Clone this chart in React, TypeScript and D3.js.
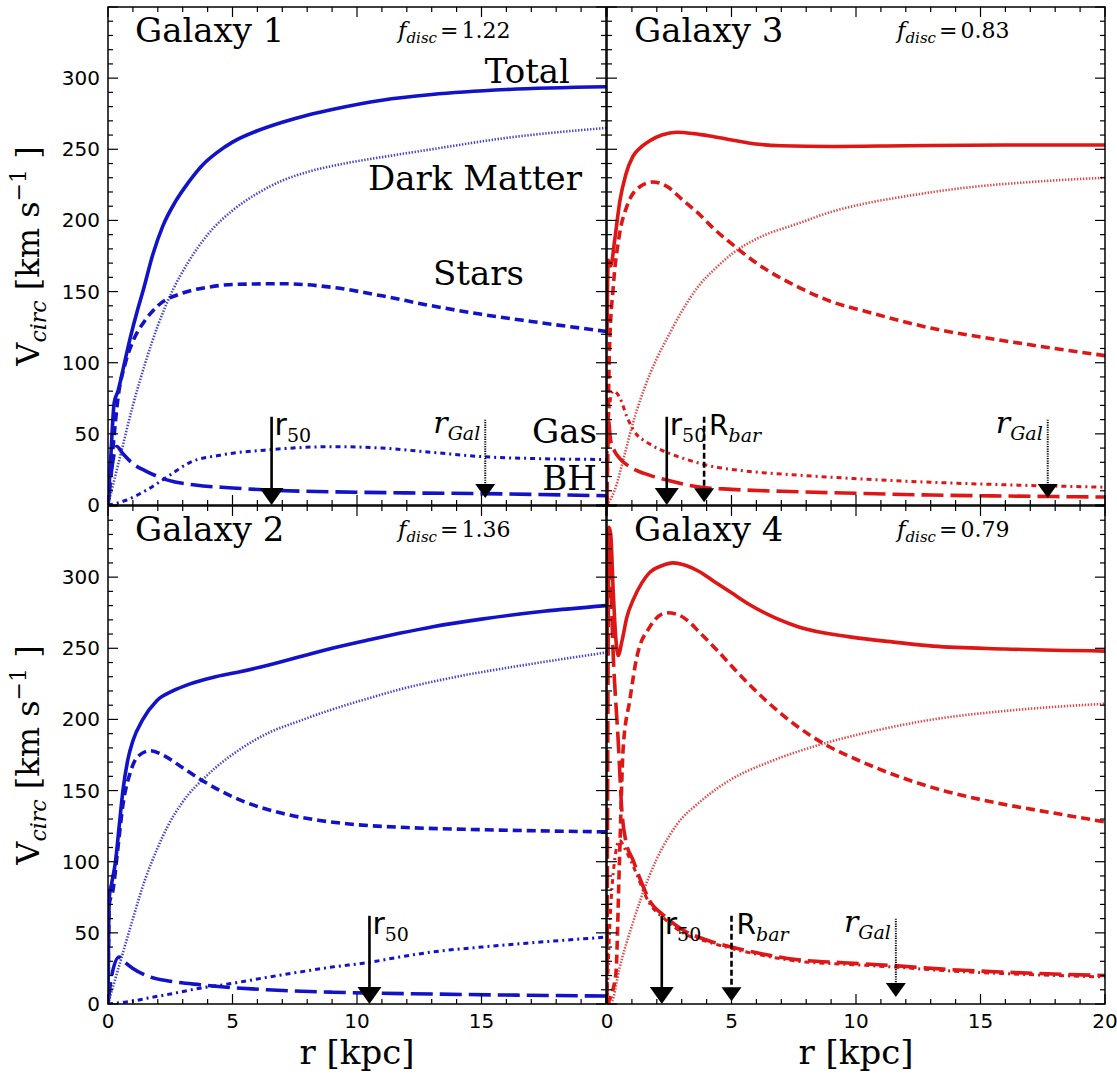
import React from 'react';
import * as d3 from 'd3';

// radius (kpc), circular velocity (km/s) pairs
const g1Total = [[0, 0], [0.1, 30], [0.25, 72], [0.4, 80], [0.6, 95], [0.9, 118], [1.2, 138], [1.4, 150], [1.8, 176], [2.2, 196], [2.7, 213], [3.2, 226], [3.8, 239], [4.4, 248], [5, 255], [6, 263], [7, 269], [8, 274], [9, 278], [11, 284.5], [13, 288.5], [16, 292], [20, 294]];
const g1Dm = [[0, 0], [0.5, 35], [1, 70], [1.5, 100], [2, 126], [2.6, 151], [3.2, 170], [4, 190], [5, 207], [6, 219], [7, 228], [8, 234], [9.5, 240], [11, 244.5], [13, 250], [16, 258], [20, 265]];
const g1Stars = [[0, 0], [0.2, 40], [0.4, 75], [0.7, 100], [1, 115], [1.5, 130], [2, 140], [3, 149], [4, 153], [5, 155], [7, 155.5], [9, 153], [11, 147], [13, 140], [15, 134], [17, 129], [20, 122]];
const g1Gas = [[0, 0], [0.3, 1], [0.75, 3.5], [1.5, 10], [2.4, 20], [3.3, 30], [4.5, 35], [6.6, 39], [9, 41], [11, 40], [13, 37], [15, 34], [17.5, 32.5], [20, 32]];
const g1Bh = [[0, 0], [0.15, 25], [0.35, 41], [0.6, 36], [1, 29], [1.5, 24], [2.4, 17.5], [3.5, 14], [5, 12], [6.4, 10.5], [9, 9.3], [12, 8.5], [15, 8], [20, 6.5]];

const g2Total = [[0, 0], [0.05, 75], [0.15, 85], [0.3, 100], [0.45, 125], [0.6, 150], [0.8, 172], [1, 185], [1.4, 200], [1.95, 213], [2.6, 220], [3.3, 225], [4.2, 229.5], [5.3, 233.5], [6.5, 238.5], [7.7, 244], [9, 250], [10.5, 256], [11.7, 260.5], [13, 265], [15, 270.5], [17.5, 276], [20, 280]];
const g2Dm = [[0, 0], [0.5, 30], [0.9, 54], [1.5, 88], [2, 110], [2.4, 125], [3, 142], [4, 161], [5.3, 179], [6.5, 191], [7.7, 199], [9, 207], [10.5, 215], [11.7, 221], [14, 230], [17, 239], [20, 247]];
const g2Stars = [[0, 0], [0.05, 70], [0.2, 80], [0.4, 110], [0.6, 140], [0.9, 163], [1.2, 174], [1.7, 178], [2.2, 175], [3, 166], [3.7, 158], [4.5, 150], [5.5, 142], [7, 134], [8.5, 129], [10, 126], [12, 124], [15, 122.5], [20, 121]];
const g2Gas = [[0, 0], [0.5, 1], [1, 2], [1.55, 4], [2.5, 7], [3.5, 10.5], [5, 14.5], [6.3, 18.5], [7.7, 22.5], [9, 26], [10.4, 29], [11.7, 33], [13, 36.5], [15, 40], [17, 43], [20, 47]];
const g2Bh = [[0, 0], [0.15, 20], [0.45, 33], [0.7, 29], [1, 25], [1.7, 19], [2.5, 16], [3.7, 13.5], [5, 11.5], [6.4, 10], [9, 8.3], [13, 7], [16, 6.3], [20, 5.6]];

const g3Total = [[0, 120], [0.05, 172], [0.15, 168], [0.3, 185], [0.52, 214], [0.75, 232], [1.04, 245], [1.4, 252], [1.72, 256], [2.2, 260], [2.8, 262], [3.5, 261], [4.25, 259], [5.2, 256], [6.1, 253.5], [7, 252.5], [9, 252], [12, 252.5], [16, 253], [20, 253]];
const g3Dm = [[0, 0], [0.3, 10], [0.7, 35], [1, 55], [1.5, 82], [2, 103], [2.5, 120], [3, 136], [3.73, 155], [4.4, 167], [5.05, 177], [6, 187], [7.7, 198], [9, 206], [10.4, 212], [12, 217], [14.4, 223], [17, 227], [20, 230]];
const g3Stars = [[0, 0], [0.1, 110], [0.25, 153], [0.5, 190], [0.8, 210], [1.2, 222], [1.84, 227], [2.4, 224], [3, 215], [3.73, 204], [4.3, 194], [5.05, 183], [6, 170], [7.7, 153], [9, 143], [10.4, 136], [13.1, 124], [15.75, 116], [20, 105]];
const g3Gas = [[0, 30], [0.1, 70], [0.25, 80], [0.5, 76], [0.8, 62], [1.05, 53], [1.7, 43], [2.4, 37], [3.2, 32], [4, 28], [5.5, 24], [7.7, 21], [10, 18.5], [13, 16], [16, 14.2], [20, 12.5]];
const g3Bh = [[0, 0], [0.05, 60], [0.15, 45], [0.3, 38], [0.5, 33], [1, 26], [1.7, 21], [2.4, 17.5], [3.7, 12.6], [5, 11], [7.7, 9.3], [10, 8.2], [13, 7], [16, 6.3], [20, 5.6]];

const g4Total = [[0, 250], [0.08, 335], [0.15, 330], [0.25, 290], [0.35, 258], [0.45, 245], [0.6, 255], [0.8, 272], [1.05, 284], [1.4, 296], [1.7, 303], [2.2, 308], [2.65, 310], [3.2, 308], [3.7, 304], [4.3, 297], [5, 289], [5.7, 281], [6.8, 271], [7.7, 265], [9.75, 258], [11.7, 254], [13.1, 251.5], [16, 249.5], [20, 248]];
const g4Dm = [[0, 0], [0.2, 2], [0.5, 25], [1, 55], [1.7, 90], [2.8, 126], [3.73, 142], [5, 158], [6.5, 170], [8.7, 183], [11, 193], [13.1, 200], [16, 206], [20, 211]];
const g4Stars = [[0, 0], [0.35, 20], [0.5, 100], [0.65, 180], [0.92, 214], [1.2, 244], [1.72, 265], [2.4, 275], [2.8, 274], [3.2, 270], [3.73, 261], [4.4, 249], [5.3, 232], [6.4, 213], [7.5, 197], [8.8, 182], [10, 172], [11.7, 160], [13.5, 150], [15.75, 141], [18, 134], [20, 128]];
const g4Gas = [[0, 0], [0.1, 50], [0.3, 100], [0.5, 115], [0.75, 108], [1.05, 97], [1.7, 71], [2.3, 60], [3.05, 50], [4, 44], [5, 39], [6.3, 34], [7.7, 30], [9.5, 28], [11.5, 26], [13.5, 23.5], [15.8, 21.5], [20, 19]];
const g4Bh = [[0, 0], [0.08, 330], [0.25, 245], [0.45, 185], [0.6, 135], [0.75, 115], [1.05, 101], [1.35, 87], [1.7, 73], [2.3, 62], [3.05, 52], [4, 45], [5, 40], [6.3, 35], [7.7, 31], [9.5, 29], [11.5, 27], [13.5, 24.5], [15.8, 22.5], [20, 20]];

const galaxyNames = ['Galaxy 1', 'Galaxy 2', 'Galaxy 3', 'Galaxy 4'];
const fDisc = ['1.22', '1.36', '0.83', '0.79'];
const r50 = [6.57, 10.5, 2.4, 2.2];
const rBar = [null, null, 3.9, 5.0];
const rGal = [15.15, null, 17.7, 11.6];
const yTickLabels = [0, 50, 100, 150, 200, 250, 300];

const BLUE = '#1212c8';
const RED = '#de1616';

const panels = [
  { i: 0, left: 108, top: 7, color: BLUE, curves: [g1Total, g1Dm, g1Stars, g1Gas, g1Bh], yLabels: true, xLabels: null },
  { i: 1, left: 108, top: 506, color: BLUE, curves: [g2Total, g2Dm, g2Stars, g2Gas, g2Bh], yLabels: true, xLabels: [0, 5, 10, 15] },
  { i: 2, left: 607, top: 7, color: RED, curves: [g3Total, g3Dm, g3Stars, g3Gas, g3Bh], yLabels: false, xLabels: null },
  { i: 3, left: 607, top: 506, color: RED, curves: [g4Total, g4Dm, g4Stars, g4Gas, g4Bh], yLabels: false, xLabels: [0, 5, 10, 15, 20] },
];

const W = 498;
const H = 498;

// total, dark matter, stars, gas, BH
const styles = [
  { width: 3.6, dash: null },
  { width: 2.6, dash: '1.4 1.6' },
  { width: 3.6, dash: '9 5' },
  { width: 3, dash: '5 4 2 4' },
  { width: 3.6, dash: '22 7' },
];

const SERIF = 'DejaVu Serif';
const SANS = 'DejaVu Sans';

function Arrow({ x, y0, y1, kind }) {
  const big = kind === 'r50';
  const hw = big ? 12 : 10;
  const hh = big ? 17 : 14;
  const dash = kind === 'r50' ? null : kind === 'bar' ? '6 3' : '1.2 1.2';
  return (
    <g>
      <line x1={x} x2={x} y1={y0} y2={y1 - hh + 2} stroke="#000" strokeWidth={kind === 'gal' ? 2 : 2.6} strokeDasharray={dash} />
      <polygon points={`${x - hw},${y1 - hh} ${x + hw},${y1 - hh} ${x},${y1}`} fill="#000" />
    </g>
  );
}

function Panel({ p }) {
  const x = d3.scaleLinear().domain([0, 20]).range([p.left, p.left + W]);
  const y = d3.scaleLinear().domain([0, 350]).range([p.top + H, p.top]);
  const line = d3.line().x(d => x(d[0])).y(d => y(d[1])).curve(d3.curveMonotoneX);
  const clipId = `clip${p.i}`;
  const xMinor = d3.range(0, 21, 1);
  const yMinor = d3.range(0, 351, 10);
  const ticks = [];
  xMinor.forEach(t => {
    const L = t % 5 === 0 ? 10 : 5;
    ticks.push(<line key={`xb${t}`} x1={x(t)} x2={x(t)} y1={p.top + H} y2={p.top + H - L} />);
    ticks.push(<line key={`xt${t}`} x1={x(t)} x2={x(t)} y1={p.top} y2={p.top + L} />);
  });
  yMinor.forEach(t => {
    const L = t % 50 === 0 ? 10 : 5;
    ticks.push(<line key={`yl${t}`} x1={p.left} x2={p.left + L} y1={y(t)} y2={y(t)} />);
    ticks.push(<line key={`yr${t}`} x1={p.left + W} x2={p.left + W - L} y1={y(t)} y2={y(t)} />);
  });
  const arrowTop = y(62);
  const labY = y(62) + 18;
  return (
    <g>
      <defs>
        <clipPath id={clipId}>
          <rect x={p.left} y={p.top} width={W} height={H} />
        </clipPath>
      </defs>
      <g clipPath={`url(#${clipId})`}>
        {p.curves.map((c, k) => (
          <path key={k} d={line(c)} fill="none" stroke={p.color} strokeWidth={styles[k].width}
            strokeDasharray={styles[k].dash} strokeLinejoin="round" opacity={k === 1 ? 0.8 : 1} />
        ))}
      </g>
      <Arrow x={x(r50[p.i])} y0={arrowTop} y1={y(0)} kind="r50" />
      {rBar[p.i] != null && <Arrow x={x(rBar[p.i])} y0={arrowTop} y1={y(2)} kind="bar" />}
      {rGal[p.i] != null && <Arrow x={x(rGal[p.i])} y0={y(60)} y1={y(5)} kind="gal" />}
      <text x={x(r50[p.i]) + 3} y={labY}>
        <tspan fontFamily={SANS} fontSize={30}>r</tspan>
        <tspan fontFamily={SERIF} fontSize={19} dy={7}>50</tspan>
      </text>
      {rBar[p.i] != null && (
        <text x={x(rBar[p.i]) + 5} y={labY}>
          <tspan fontFamily={SANS} fontSize={28}>R</tspan>
          <tspan fontFamily={SERIF} fontStyle="italic" fontSize={19} dy={7}>bar</tspan>
        </text>
      )}
      {rGal[p.i] != null && (
        <text x={x(rGal[p.i]) - 5} y={labY - 2} textAnchor="end">
          <tspan fontFamily={SERIF} fontStyle="italic" fontSize={30}>r</tspan>
          <tspan fontFamily={SERIF} fontStyle="italic" fontSize={19} dy={7}>Gal</tspan>
        </text>
      )}
      <g stroke="#000" strokeWidth={1.2}>{ticks}</g>
      <rect x={p.left} y={p.top} width={W} height={H} fill="none" stroke="#000" strokeWidth={1.5} />
      <text x={p.left + 27} y={p.top + 35} fontFamily={SERIF} fontSize={34}>{galaxyNames[p.i]}</text>
      <text x={p.left + 290} y={p.top + 31} fontFamily={SERIF} fontSize={22}>
        <tspan fontStyle="italic" fontSize={23}>f</tspan>
        <tspan fontStyle="italic" fontSize={15} dy={5}>disc</tspan>
        <tspan dy={-5} dx={3}>=</tspan>
        <tspan dx={3}>{fDisc[p.i]}</tspan>
      </text>
      {p.yLabels && yTickLabels.map(t => (
        <text key={`yl${t}`} x={p.left - 8} y={y(t) + 7} textAnchor="end" fontFamily={SANS} fontSize={20}>{t}</text>
      ))}
      {p.xLabels && p.xLabels.map(t => (
        <text key={`xl${t}`} x={x(t)} y={p.top + H + 24} textAnchor="middle" fontFamily={SANS} fontSize={20}>{t}</text>
      ))}
      {p.xLabels && (
        <text x={p.left + W / 2} y={p.top + H + 60} textAnchor="middle" fontFamily={SERIF} fontSize={34}>r [kpc]</text>
      )}
      {p.yLabels && (
        <text transform={`translate(39, ${p.top + H / 2}) rotate(-90)`} textAnchor="middle" fontFamily={SERIF} fontSize={32}>
          V<tspan fontStyle="italic" fontSize={22} dy={7}>circ</tspan>
          <tspan dy={-7}> [km s</tspan>
          <tspan fontSize={22} dy={-13}>−1</tspan>
          <tspan dy={13}> ]</tspan>
        </text>
      )}
    </g>
  );
}

export default function App() {
  return (
    <svg width={1117} height={1074} style={{ position: 'absolute', left: 0, top: 0, background: '#fff' }}>
      <rect width={1117} height={1074} fill="#fff" />
      {panels.map(p => <Panel key={p.i} p={p} />)}
      <g fontFamily={SERIF} fontSize={34} textAnchor="end">
        <text x={570} y={83}>Total</text>
        <text x={582} y={190}>Dark Matter</text>
        <text x={524} y={285}>Stars</text>
        <text x={597} y={443}>Gas</text>
        <text x={597} y={490}>BH</text>
      </g>
    </svg>
  );
}
